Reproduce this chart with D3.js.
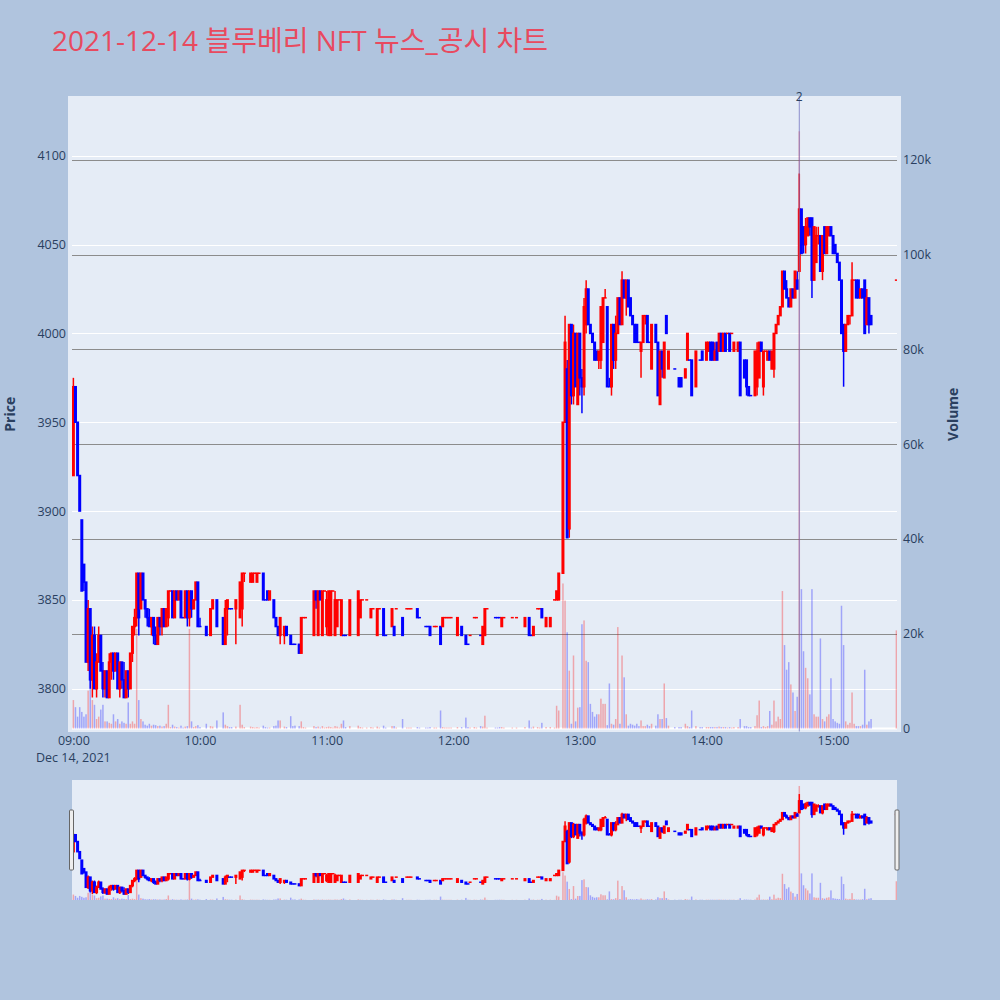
<!DOCTYPE html>
<html><head><meta charset="utf-8">
<script src="https://cdn.jsdelivr.net/npm/d3@7"></script>
<style>body{margin:0;background:#b0c4de;} svg{display:block}</style>
</head><body><svg id="c" width="1000" height="1000"></svg>
<script>
// ---------- DATA (minute offsets from 09:00, 1-minute candles) ----------
const chartTitle = "2021-12-14 블루베리 NFT 뉴스_공시 차트";
const minutes = [
  0,1,2,3,4,5,6,7,8,9, 10,11,12,13,14,15,16,17,18,19, 20,21,22,23,24,25,26,27,28,29,
  30,31,32,33,34,35,36,37,38,39, 40,41,42,43,44,45,46,47,48,49, 50,51,52,53,54,55,56,57,58,59, 60,
  63,65,66,68,71,72,73,74,75,77, 79,80,81,84,85,86,87,88,90,91, 92,93,95,96,97,98,100,101,103,104,
  105,107,108,109,110,114,115,116,117,118, 119,
  120,121,122,123,124,125,126,127,128,129, 131,135,136,137,139,141,142,144,145,147,
  148,151,152,153,156,158,159,160,163,164, 167,168,169,171,172,174,175,176,177,178, 179,
  182,184,186,187,188,190,191,193,194,195, 196,200,201,202,203,204,208,210,214,216,
  217,218,220,221,222,224,226,228,229,230,
  232,233,234,235,236,237,238,239,240,241, 242,243,244,245,246,247,248,249,250,251,
  252,253,254,255,256,257,258,259,260,261, 262,263,264,265,266,267,268,269,270,271, 272,273,274,
  276,277,278,279,280,281,282,285,287,288, 290,291,292,293,295,297,298,
  300,301,302,303,304,305,306,307,308,309, 310,311,312,313, 315,316,318,319,320,321,
  323,324,325,326,327,328,329,330,331,332, 333,334,335,336,337,338,339,340,341,342,
  343,344,345,346,347,348,349,350,351,352, 353,354,355,356,357,358,359,360,361,362,
  363,364,365,366,367,368,369,370,371,372, 373,374,375,376,377,378, 390
];
const opens = [
  3920,3970,3950,3920,3895,3870,3860,3815,3845,3805, 3830,3800,3815,3830,3810,3800,3810,3795,3815,3820,
  3810,3820,3800,3815,3805,3795,3810,3800,3820,3835, 3840,3865,3845,3865,3850,3845,3840,3835,3840,3830,
  3825,3840,3835,3845,3835,3840,3855,3855,3840,3855, 3850,3855,3840,3840,3855,3840,3855,3845,3850,3860, 3835,
  3835,3830,3845,3850,3840,3825,3845,3845,3845,3845, 3840,3845,3865,3860,3860,3865,3860,3865,3865,3850,
  3855,3850,3850,3840,3835,3830,3830,3835,3830,3825, 3825,3825,3820,3840,3840,3830,3855,3830,3855,3830, 3855,
  3835,3830,3830,3855,3830,3835,3850,3830,3830,3830, 3830,3830,3840,3850,3850,3840,3845,3830,3845,3845,
  3830,3835,3835,3845,3840,3845,3845,3845,3845,3840, 3835,3835,3835,3835,3835,3835,3835,3840,3840,3840, 3840,
  3830,3835,3830,3825,3830,3840,3840,3830,3825,3830, 3845,3840,3840,3840,3835,3840,3840,3840,3835,3840,
  3830,3830,3845,3845,3845,3835,3835,3850,3850,3850,
  3865,3950,3980,3890,4005,3965,4000,3960,4000,3975, 3970,4005,4025,4005,4000,3995,3990,3985,3985,3995,
  4020,4015,3970,3970,4005,3985,4000,4020,4005,4030, 4020,4030,4020,4010,4005,4005,3995,3990,3995,4010, 4010,3995,3980,
  4005,3995,3960,3990,3975,4010,3980,3980,3975,3975, 3975,3985,3985,3985,3970,3985,3990,
  3985,3990,3995,3995,3985,3995,3990,4000,3990,4000, 4000,4000,4000,3990, 3990,3995,3985,3985,3970,3965,
  3965,3970,3975,3995,3970,3990,3985,3990,3980,3980, 4000,4005,4010,4015,4035,4025,4020,4015,4025,4020,
  4030,4035,4070,4060,4050,4055,4065,4065,4030,4040, 4055,4055,4035,4060,4045,4055,4060,4055,4050,4045,
  4040,4030,4005,3990,4005,4010,4010,4030,4030,4030, 4020,4025,4030,4005,4020,4010, 4030
];
const highs = [
  3975,3970,3950,3920,3895,3870,3860,3850,3845,3835, 3835,3820,3835,3830,3815,3810,3810,3820,3820,3820,
  3820,3820,3815,3815,3815,3810,3810,3820,3835,3845, 3865,3865,3865,3865,3850,3845,3845,3840,3840,3835,
  3840,3840,3845,3845,3845,3855,3855,3855,3855,3855, 3855,3855,3840,3855,3855,3855,3855,3850,3860,3860, 3840,
  3835,3845,3850,3850,3840,3850,3850,3845,3845,3850, 3860,3865,3865,3865,3865,3865,3865,3865,3865,3850,
  3855,3855,3850,3840,3835,3840,3835,3835,3830,3825, 3825,3825,3840,3840,3840,3855,3855,3855,3855,3855, 3855,
  3855,3855,3855,3855,3855,3850,3850,3850,3830,3830, 3850,3855,3850,3850,3850,3845,3845,3845,3845,3845,
  3830,3845,3835,3845,3840,3845,3845,3845,3845,3840, 3835,3835,3835,3835,3835,3835,3840,3840,3840,3840, 3840,
  3840,3835,3830,3825,3830,3840,3840,3830,3835,3845, 3845,3840,3840,3840,3840,3840,3840,3840,3840,3840,
  3830,3835,3845,3845,3845,3840,3840,3850,3855,3865,
  3950,4010,3985,4005,4005,4005,4000,4000,4000,3980, 4020,4030,4025,4005,4000,3995,3990,3990,4015,4020,
  4025,4015,3975,4005,4005,4010,4020,4020,4035,4030, 4030,4030,4020,4010,4005,4005,3995,3995,4010,4010, 4010,3995,4005,
  4005,3995,3990,3990,3995,4010,3990,3980,3975,3975, 3980,4000,3985,3985,3990,3985,3990,
  3995,3995,3995,3995,3995,3995,4000,4000,4000,4000, 4000,4000,4000,3995, 3995,3995,3985,3985,3970,3965,
  3990,3995,3995,3995,3990,3990,3990,3990,3990,4000, 4005,4010,4015,4035,4035,4030,4020,4025,4025,4035,
  4035,4090,4070,4060,4065,4065,4065,4065,4060,4060, 4060,4055,4055,4060,4060,4060,4060,4055,4050,4045,
  4040,4030,4005,4005,4010,4010,4040,4030,4030,4030, 4025,4025,4030,4025,4020,4010, 4030
];
const lows = [
  3920,3950,3920,3900,3855,3855,3815,3810,3800,3795, 3800,3795,3815,3810,3795,3795,3795,3795,3805,3805,
  3810,3800,3795,3800,3795,3795,3795,3800,3815,3830, 3835,3830,3845,3850,3840,3835,3835,3830,3825,3825,
  3825,3830,3830,3835,3835,3835,3855,3840,3840,3850, 3850,3840,3840,3840,3835,3835,3840,3845,3850,3835, 3835,
  3830,3830,3845,3835,3825,3825,3830,3845,3845,3825, 3840,3835,3860,3860,3860,3865,3860,3865,3850,3850,
  3850,3850,3840,3835,3830,3825,3825,3830,3825,3825, 3825,3820,3820,3840,3840,3830,3845,3830,3850,3830, 3855,
  3830,3830,3830,3855,3830,3835,3850,3830,3830,3830, 3830,3830,3840,3850,3850,3840,3845,3830,3845,3830,
  3830,3835,3830,3845,3830,3845,3845,3845,3840,3840, 3835,3835,3830,3835,3835,3825,3835,3840,3840,3840, 3840,
  3830,3830,3825,3825,3830,3840,3840,3830,3825,3830, 3845,3840,3840,3840,3835,3840,3840,3840,3835,3830,
  3830,3830,3845,3845,3840,3835,3835,3850,3850,3850,
  3865,3950,3885,3885,3960,3960,3970,3960,3965,3955, 3965,4000,4005,4000,3995,3985,3985,3980,3980,3995,
  4020,3970,3970,3965,3980,3980,4000,4005,4005,4020, 4010,4015,4010,4005,3995,3995,3995,3975,3995,4005, 3995,3995,3980,
  3995,3965,3960,3975,3975,4000,3980,3980,3970,3970, 3975,3985,3985,3965,3970,3985,3985,
  3985,3990,3985,3985,3985,3985,3990,3990,3990,3990, 4000,3990,4000,3990, 3990,3965,3975,3965,3965,3965,
  3965,3965,3975,3990,3965,3990,3985,3985,3980,3975, 4000,4005,4010,4015,4025,4020,4015,4015,4020,4020,
  4025,4035,4045,4045,4045,4055,4055,4020,4030,4040, 4050,4035,4030,4045,4045,4055,4055,4045,4045,4040,
  4030,4000,3970,3990,4005,4005,4010,4030,4020,4020, 4020,4020,4000,4005,4000,4005, 4030
];
const closes = [
  3970,3950,3920,3900,3855,3860,3815,3845,3805,3830, 3800,3815,3830,3810,3800,3810,3795,3815,3820,3810,
  3820,3800,3815,3805,3795,3810,3800,3820,3835,3840, 3865,3840,3865,3850,3845,3840,3835,3840,3830,3825,
  3840,3835,3845,3835,3845,3855,3855,3840,3855,3850, 3855,3840,3840,3855,3840,3855,3845,3850,3860,3835, 3835,
  3830,3845,3850,3835,3825,3845,3850,3845,3845,3850, 3860,3865,3865,3865,3865,3865,3865,3865,3850,3850,
  3850,3855,3840,3835,3830,3840,3835,3830,3825,3825, 3825,3820,3840,3840,3840,3855,3850,3855,3850,3855, 3855,
  3850,3855,3855,3855,3850,3850,3850,3850,3830,3830, 3850,3855,3850,3850,3850,3845,3845,3845,3845,3830,
  3830,3845,3830,3845,3830,3845,3845,3845,3840,3840, 3835,3835,3830,3835,3835,3825,3840,3840,3840,3840, 3840,
  3840,3830,3825,3825,3830,3840,3840,3830,3835,3845, 3845,3840,3840,3840,3840,3840,3840,3840,3840,3830,
  3830,3835,3845,3845,3840,3840,3840,3850,3855,3865,
  3950,3995,3885,4005,3965,4000,3970,4000,3975,3970, 4015,4025,4005,4000,3995,3985,3985,3990,4015,4020,
  4020,3970,3970,4005,3985,4000,4020,4005,4030,4020, 4030,4015,4010,4005,3995,3995,3995,3995,4010,4010, 3995,3995,4005,
  3995,3965,3990,3980,3995,4000,3990,3980,3970,3970, 3980,4000,3985,3965,3990,3985,3985,
  3995,3995,3985,3985,3990,3985,4000,3990,4000,3990, 4000,3990,4000,3995, 3995,3965,3975,3970,3965,3965,
  3990,3990,3995,3990,3990,3990,3990,3985,3990,4000, 4005,4010,4015,4035,4025,4020,4015,4025,4020,4035,
  4025,4070,4045,4050,4060,4065,4060,4030,4060,4055, 4055,4035,4055,4045,4060,4060,4055,4045,4045,4040,
  4030,4000,3990,4005,4010,4010,4030,4030,4020,4020, 4025,4020,4000,4020,4005,4005, 4030
];
const volumes = [
  6000,4500,2500,4500,3500,2500,3000,8000,12000,6000, 5000,2000,2500,4000,5000,1500,1500,1200,1000,3000,
  1500,2000,1000,1500,1200,1000,5500,1000,1500,1000, 21000,6000,2000,1500,800,600,1000,600,800,700,
  500,600,400,500,1000,5000,300,800,400,300, 200,600,200,400,500,21000,1500,300,500,700, 300,
  1000,500,400,1700,3400,800,500,300,300,400, 5000,800,300,400,300,200,300,200,600,300,
  200,200,500,600,1700,1700,400,300,2600,500, 600,500,1500,300,200,500,300,400,200,500, 200,
  300,400,300,200,500,400,200,1000,1700,300, 500,600,300,200,200,300,200,400,200,600,
  200,500,500,200,2000,200,200,200,300,200, 200,200,300,200,200,3800,300,200,200,200, 200,
  300,300,2300,300,200,300,200,500,400,2700, 200,200,200,300,300,200,200,200,300,1700,
  200,400,300,200,1200,300,300,200,4800,3800,
  30600,27000,20300,12200,1000,15400,1500,4400,4500,22000, 22800,14300,14000,5200,3500,2500,3000,3000,6300,5200,
  5200,700,9500,1000,800,2000,21400,1000,15400,10800, 3000,600,1000,800,600,1000,500,1700,500,500, 800,500,1000,
  600,3000,2000,2000,9500,2200,600,300,300,300, 1000,500,300,3800,500,300,300,
  300,300,300,300,300,300,400,300,300,300, 200,300,200,300, 300,2000,500,500,300,300,
  500,2800,5900,300,500,300,500,3700,800,5900, 1500,2500,2000,29000,17600,12400,14000,9300,7600,3700,
  6700,126000,29400,16300,12800,10600,7200,29400,3000,2500, 2500,19000,2000,1500,2500,3000,10600,2000,1500,1200,
  1000,25900,17600,1500,800,1200,7600,1000,500,500, 500,800,12400,800,1500,2000, 20700
];
const priceTicks = [3800, 3850, 3900, 3950, 4000, 4050, 4100];
const volumeTicks = [0, 20000, 40000, 60000, 80000, 100000, 120000];
const volumeTickLabels = ["0", "20k", "40k", "60k", "80k", "100k", "120k"];
const timeTickHours = [9, 10, 11, 12, 13, 14, 15];
const dateLabel = "Dec 14, 2021";
const newsMinutes = [344];
const newsLabels = ["2"];

// ---------- SETUP ----------
const base = new Date(2021, 11, 14, 9, 0, 0);
const t = m => new Date(base.getTime() + m * 60000);
const svg = d3.select("#c");
const FONT = '"Open Sans", "Noto Sans CJK KR", verdana, arial, sans-serif';
const TXT = "#2a3f5f";
const UP = "#ff0000", DOWN = "#0000ff";

const data = minutes.map((m, i) => ({ m, o: opens[i], h: highs[i], l: lows[i], c: closes[i], v: volumes[i] }));
let prevC = null, prevDir = 1;
data.forEach(d => {
  let dir;
  if (d.c > d.o) dir = 1; else if (d.c < d.o) dir = -1;
  else if (prevC !== null && d.c > prevC) dir = 1;
  else if (prevC !== null && d.c < prevC) dir = -1;
  else dir = prevDir;
  d.dir = dir; prevDir = dir; prevC = d.c;
});

const X0 = 72, X1 = 897, Y0 = 100, Y1 = 728.5;
const x = d3.scaleTime().domain([t(-0.65), t(390.3)]).range([X0, X1]);
const yP = d3.scaleLinear().domain([3777.6, 4131.4]).range([Y1, Y0]);
const yV = d3.scaleLinear().domain([0, 132600]).range([Y1, Y0]);
const S0 = 780, S1 = 900;
const yPs = d3.scaleLinear().domain(yP.domain()).range([S1, S0]);
const yVs = d3.scaleLinear().domain(yV.domain()).range([S1, S0]);

// paper & plot backgrounds
svg.append("rect").attr("width", 1000).attr("height", 1000).attr("fill", "#b0c4de");
svg.append("rect").attr("x", 68).attr("y", 96).attr("width", 833).attr("height", 636).attr("fill", "#e5ecf6");

// title
const title = svg.append("text").attr("x", 52).attr("y", 51).attr("fill", "#e84a5f")
  .style("font-family", FONT).style("font-size", "26px").text(chartTitle);
const tw = title.node().getComputedTextLength();
title.style("font-size", (26 * 496 / tw).toFixed(2) + "px");

const defs = svg.append("defs");
defs.append("clipPath").attr("id", "mainClip").append("rect").attr("x", X0).attr("y", Y0).attr("width", X1 - X0).attr("height", Y1 - Y0 + 2);
defs.append("clipPath").attr("id", "sliderClip").append("rect").attr("x", X0).attr("y", S0).attr("width", X1 - X0).attr("height", S1 - S0);

// grid
const grid = svg.append("g");
grid.selectAll(".pg").data(priceTicks).join("line")
  .attr("x1", X0).attr("x2", X1).attr("y1", d => Math.round(yP(d)) + 0.5).attr("y2", d => Math.round(yP(d)) + 0.5)
  .attr("stroke", "#fff").attr("stroke-width", 1);
grid.selectAll(".vg").data(volumeTicks.filter(d => d > 0)).join("line")
  .attr("x1", X0).attr("x2", X1).attr("y1", d => Math.round(yV(d)) + 0.5).attr("y2", d => Math.round(yV(d)) + 0.5)
  .attr("stroke", "#8c8c8c").attr("stroke-width", 1);
grid.append("line").attr("x1", X0).attr("x2", X1).attr("y1", yV(0)).attr("y2", yV(0))
  .attr("stroke", "#fff").attr("stroke-width", 2);

function drawCandles(g, ys) {
  const bw = 3;
  g.selectAll(".wick").data(data).join("line")
    .attr("x1", d => x(t(d.m))).attr("x2", d => x(t(d.m)))
    .attr("y1", d => ys(d.h)).attr("y2", d => ys(d.l))
    .attr("stroke", d => d.dir > 0 ? UP : DOWN).attr("stroke-width", 1.5);
  g.selectAll(".body").data(data).join("rect")
    .attr("x", d => x(t(d.m)) - bw / 2).attr("width", bw)
    .attr("y", d => Math.min(ys(d.o), ys(d.c)) - 0.75)
    .attr("height", d => Math.abs(ys(d.o) - ys(d.c)) + 1.5)
    .attr("fill", d => d.dir > 0 ? UP : DOWN);
}
function drawVolume(g, ys) {
  const w = 1.5;
  g.selectAll(".vb").data(data).join("rect")
    .attr("x", d => x(t(d.m)) - w / 2).attr("width", w)
    .attr("y", d => ys(d.v)).attr("height", d => ys(0) - ys(d.v))
    .attr("fill", d => d.dir > 0 ? "rgba(255,0,0,0.3)" : "rgba(0,0,255,0.3)");
}

const main = svg.append("g").attr("clip-path", "url(#mainClip)");
drawCandles(main.append("g"), yP);
drawVolume(main.append("g"), yV);

// news marker
newsMinutes.forEach((m, i) => {
  svg.append("line").attr("x1", x(t(m))).attr("x2", x(t(m))).attr("y1", Y0 - 4).attr("y2", Y1 + 3)
    .attr("stroke", "rgba(110,110,190,0.75)").attr("stroke-width", 1);
  svg.append("text").attr("x", x(t(m))).attr("y", 101).attr("text-anchor", "middle")
    .attr("fill", TXT).style("font-family", FONT).style("font-size", "12px").text(newsLabels[i]);
});

// axes
const xAxis = d3.axisBottom(x).tickValues(timeTickHours.map(h => new Date(2021, 11, 14, h, 0)))
  .tickFormat(d3.timeFormat("%H:%M")).tickSize(0).tickPadding(0);
const gx = svg.append("g").attr("transform", "translate(0,736)").call(xAxis);
gx.select(".domain").remove();
gx.selectAll("text").attr("fill", TXT).style("font-family", FONT).style("font-size", "12.5px").attr("dy", "0.71em").attr("y", 0);
svg.append("text").attr("x", x(t(0))).attr("y", 762).attr("text-anchor", "middle").attr("fill", TXT)
  .style("font-family", FONT).style("font-size", "12.5px").text(dateLabel);

const yAxisL = d3.axisLeft(yP).tickValues(priceTicks).tickFormat(d3.format("d")).tickSize(0).tickPadding(6);
const gl = svg.append("g").attr("transform", `translate(${X0},0)`).call(yAxisL);
gl.select(".domain").remove();
gl.selectAll("text").attr("fill", TXT).style("font-family", FONT).style("font-size", "12.5px");

const yAxisR = d3.axisRight(yV).tickValues(volumeTicks).tickFormat((d, i) => volumeTickLabels[i]).tickSize(0).tickPadding(6);
const gr = svg.append("g").attr("transform", `translate(${X1},0)`).call(yAxisR);
gr.select(".domain").remove();
gr.selectAll("text").attr("fill", TXT).style("font-family", FONT).style("font-size", "12.5px");

svg.append("text").attr("transform", `translate(15,${(Y0 + Y1) / 2}) rotate(-90)`).attr("text-anchor", "middle")
  .attr("fill", TXT).style("font-family", FONT).style("font-size", "14px").style("font-weight", "bold").text("Price");
svg.append("text").attr("transform", `translate(958,${(Y0 + Y1) / 2}) rotate(-90)`).attr("text-anchor", "middle")
  .attr("fill", TXT).style("font-family", FONT).style("font-size", "14px").style("font-weight", "bold").text("Volume");

// range slider
svg.append("rect").attr("x", X0).attr("y", S0).attr("width", X1 - X0).attr("height", S1 - S0).attr("fill", "#e5ecf6");
const sl = svg.append("g").attr("clip-path", "url(#sliderClip)");
drawCandles(sl.append("g"), yPs);
drawVolume(sl.append("g"), yVs);
[X0 - 2.5, X1 - 2].forEach(gxp => {
  svg.append("rect").attr("x", gxp).attr("y", S0 + 30).attr("width", 4).attr("height", 60)
    .attr("fill", "#eee").attr("stroke", "#666").attr("stroke-width", 1).attr("rx", 1);
});
</script></body></html>
